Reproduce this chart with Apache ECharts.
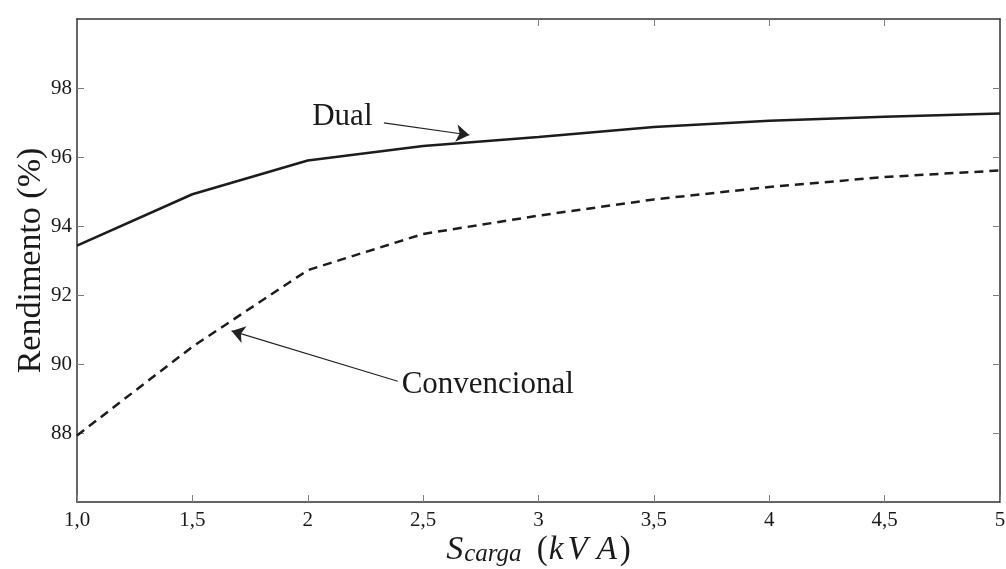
<!DOCTYPE html>
<html>
<head>
<meta charset="utf-8">
<script src="https://cdn.jsdelivr.net/npm/echarts@6/dist/echarts.min.js"></script>
<style>html,body{margin:0;padding:0;background:#fff}#c{width:1006px;height:569px}</style>
</head>
<body>
<div id="c"></div>
<script>
// ---- data ----
var sCarga = [1.0, 1.5, 2.0, 2.5, 3.0, 3.5, 4.0, 4.5, 5.0];
var dualValues = [93.43, 94.92, 95.90, 96.32, 96.58, 96.87, 97.05, 97.17, 97.26];
var convencionalValues = [87.93, 90.50, 92.72, 93.77, 94.30, 94.77, 95.13, 95.42, 95.61];
var xTickValues = [1.0, 1.5, 2.0, 2.5, 3.0, 3.5, 4.0, 4.5, 5.0];
var xTickLabels = ['1,0', '1,5', '2', '2,5', '3', '3,5', '4', '4,5', '5'];
var yTickValues = [88, 90, 92, 94, 96, 98];
var topTickValues = [3.0, 3.5, 4.0, 4.5];
var seriesNames = ['Dual', 'Convencional'];
// annotation anchor points (data coordinates)
var dualLabelAt = [2.15, 97.17];
var dualArrowFrom = [2.33, 96.99];
var dualArrowTo = [2.70, 96.64];
var convLabelAt = [2.78, 89.40];
var convArrowFrom = [2.39, 89.50];
var convArrowTo = [1.67, 90.96];

var serif = '"Liberation Serif", "DejaVu Serif", serif';
var tickColor = '#808080';
var boxColor = '#333';
var lineColor = '#1c1c1c';
var ink = '#1a1a1a';

function pairs(xs, ys) { return xs.map(function (x, i) { return [x, ys[i]]; }); }
function xLabel(v) {
  var i = xTickValues.indexOf(v);
  return i >= 0 ? xTickLabels[i] : '';
}

var annoLabel = {
  show: true, position: 'inside', color: ink,
  fontFamily: serif, fontSize: 31
};

var itBase = { fontSize: 33, fontStyle: 'italic', fontFamily: serif, color: ink };
function it(pad) { return Object.assign({}, itBase, { padding: pad }); }

var chart = echarts.init(document.getElementById('c'), null, { renderer: 'canvas' });
chart.setOption({
  animation: false,
  backgroundColor: '#fff',
  grid: { left: 77, right: 6, top: 19, bottom: 67, containLabel: false, outerBoundsMode: 'none' },
  xAxis: [{
    type: 'value', min: 1, max: 5, interval: 0.5, position: 'bottom',
    axisLine: { show: true, lineStyle: { color: boxColor, width: 1.5 } },
    axisTick: { show: true, inside: true, length: 7, lineStyle: { color: tickColor, width: 1 } },
    axisLabel: { color: ink, fontFamily: serif, fontSize: 21, margin: 8, formatter: xLabel },
    splitLine: { show: false },
    name: '{s|S}{sub|carga}{sp| }{n|(}{k|k}{v|V}{a|A}{n|)}',
    nameLocation: 'middle', nameGap: 31, nameMoveOverlap: false,
    nameTextStyle: {
      color: ink, fontFamily: serif,
      rich: {
        s: { fontSize: 34, fontStyle: 'italic', fontFamily: serif, color: ink },
        sub: { fontSize: 25, fontStyle: 'italic', fontFamily: serif, color: ink, padding: [9, 0, 0, 1] },
        sp: { fontSize: 25, fontFamily: serif, color: ink, padding: [0, 9, 0, 0] },
        n: { fontSize: 33, fontFamily: serif, color: ink },
        k: it([0, 2, 0, 1]),
        v: it([0, 7, 0, 2]),
        a: it([0, 3, 0, 2])
      }
    }
  }, {
    type: 'value', min: 1, max: 5, interval: 0.5, position: 'top',
    axisLine: { show: true, lineStyle: { color: boxColor, width: 1.5 } },
    axisTick: { show: true, inside: true, length: 7, customValues: topTickValues, lineStyle: { color: tickColor, width: 1 } },
    axisLabel: { show: false },
    splitLine: { show: false }
  }],
  yAxis: [{
    type: 'value', min: 86, max: 100, interval: 2, position: 'left',
    axisLine: { show: true, lineStyle: { color: boxColor, width: 1.5 } },
    axisTick: { show: true, inside: true, length: 7, customValues: yTickValues, lineStyle: { color: tickColor, width: 1 } },
    axisLabel: { color: ink, fontFamily: serif, fontSize: 21, margin: 5, customValues: yTickValues },
    splitLine: { show: false },
    name: 'Rendimento (%)', nameLocation: 'middle', nameGap: 29, nameMoveOverlap: false,
    nameTextStyle: { color: ink, fontFamily: serif, fontSize: 34 }
  }, {
    type: 'value', min: 86, max: 100, interval: 2, position: 'right',
    axisLine: { show: true, lineStyle: { color: boxColor, width: 1.5 } },
    axisTick: { show: true, inside: true, length: 7, customValues: yTickValues, lineStyle: { color: tickColor, width: 1 } },
    axisLabel: { show: false },
    splitLine: { show: false }
  }],
  series: [{
    name: seriesNames[0], type: 'line', data: pairs(sCarga, dualValues),
    showSymbol: false, symbol: 'none',
    lineStyle: { color: lineColor, width: 2.5 },
    markLine: {
      silent: true, symbol: ['none', 'arrow'], symbolSize: 13,
      lineStyle: { color: '#222', width: 1.1, type: 'solid' },
      itemStyle: { color: '#222' },
      label: { show: false },
      data: [[{ coord: dualArrowFrom }, { coord: dualArrowTo }]]
    },
    markPoint: {
      silent: true, symbol: 'circle', symbolSize: 1,
      itemStyle: { color: 'rgba(0,0,0,0)' },
      label: annoLabel,
      data: [{ coord: dualLabelAt, label: { formatter: seriesNames[0] } }]
    }
  }, {
    name: seriesNames[1], type: 'line', data: pairs(sCarga, convencionalValues),
    showSymbol: false, symbol: 'none',
    lineStyle: { color: lineColor, width: 2.5, type: [9, 6] },
    markLine: {
      silent: true, symbol: ['none', 'arrow'], symbolSize: 13,
      lineStyle: { color: '#222', width: 1.1, type: 'solid' },
      itemStyle: { color: '#222' },
      label: { show: false },
      data: [[{ coord: convArrowFrom }, { coord: convArrowTo }]]
    },
    markPoint: {
      silent: true, symbol: 'circle', symbolSize: 1,
      itemStyle: { color: 'rgba(0,0,0,0)' },
      label: annoLabel,
      data: [{ coord: convLabelAt, label: { formatter: seriesNames[1] } }]
    }
  }]
});
</script>
</body>
</html>
